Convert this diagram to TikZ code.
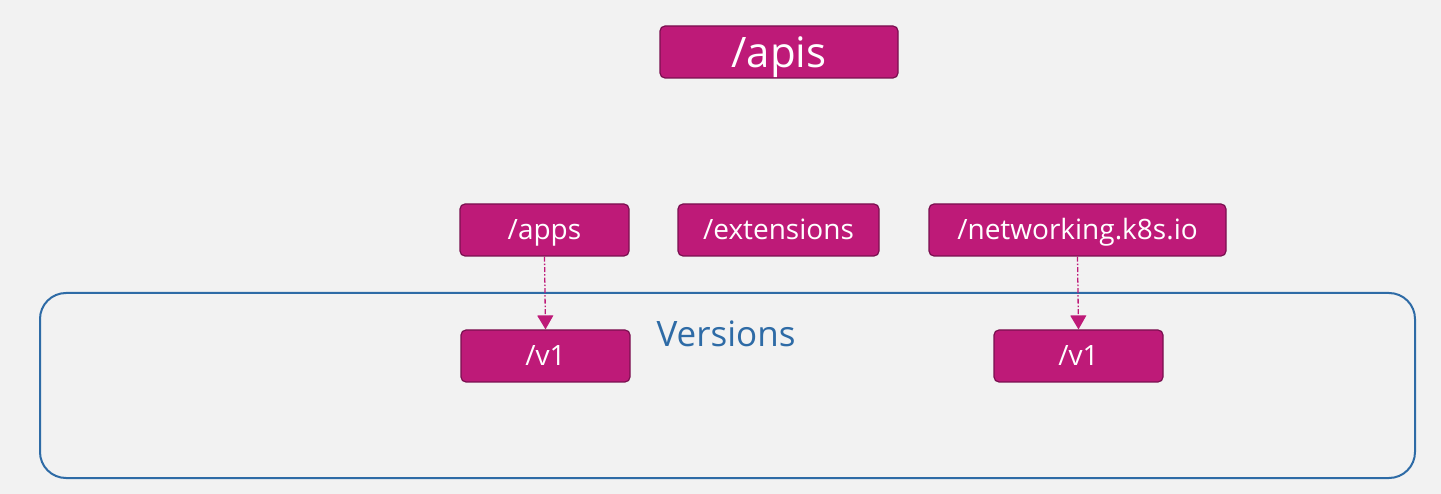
\documentclass[tikz,border=0pt]{standalone}
\usepackage{fontspec}
\setmainfont{Open Sans}
\usetikzlibrary{arrows.meta}

\definecolor{apimagenta}{HTML}{BE1A78}
\definecolor{apiedge}{HTML}{7A1050}
\definecolor{verblue}{HTML}{2E6BA6}
\definecolor{bggrey}{HTML}{F2F2F2}

\tikzset{
    apibox/.style={draw=apiedge, line width=1.2pt, fill=apimagenta, text=white,
        rounded corners=5pt, minimum height=52pt, inner sep=0pt,
        text height=24pt, text depth=4pt,
        font=\fontsize{28}{34}\selectfont},
    verlink/.style={apimagenta, line width=1.3pt,
        dash pattern=on 5pt off 2pt on 1.5pt off 2pt,
        -{Triangle[width=16pt,length=14pt]}}
}

\begin{document}
\begin{tikzpicture}[x=1pt,y=-1pt]
        \fill[bggrey] (0,0) rectangle (1441,494);
        \useasboundingbox (0,0) rectangle (1441,494);

        % versions area
        \draw[verblue, line width=2pt, rounded corners=26pt] (40,293) rectangle (1415,478);
        \node[verblue, anchor=base, inner sep=0pt, font=\fontsize{35}{42}\selectfont] (versions) at (726,347) {Versions};

            \node[apibox, minimum width=238pt, text height=38pt, text depth=6pt,
                font=\fontsize{42}{50}\selectfont] (apis) at (779,52) {/apis};
            \node[apibox, minimum width=169pt] (apps) at (544.5,230) {/apps};
            \node[apibox, minimum width=201pt] (extensions) at (778.5,230) {/extensions};
            \node[apibox, minimum width=297pt] (networking) at (1077.5,230) {/networking.k8s.io};
            \node[apibox, minimum width=169pt] (appsv1) at (545.5,356) {/v1};
            \node[apibox, minimum width=169pt] (netv1) at (1078.5,356) {/v1};

        \draw[verlink] (apps.south) -- (appsv1.north);
        \draw[verlink] (networking.south) -- (netv1.north);
    \end{tikzpicture}
\end{document}
